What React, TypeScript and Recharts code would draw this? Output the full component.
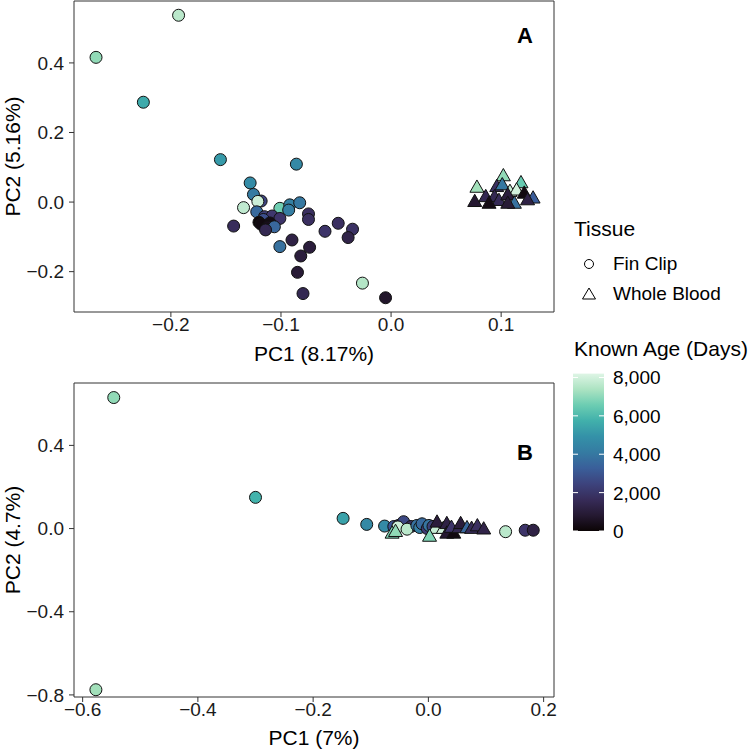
import { ScatterChart, Scatter, XAxis, YAxis, ReferenceArea } from "recharts";

// Panel A - fin clip samples
const finA_pc1 = [-0.193, -0.268, -0.225, -0.155, -0.086, -0.128, -0.125, -0.118, -0.121, -0.134, -0.101, -0.092, -0.083, -0.093, -0.122, -0.115, -0.108, -0.101, -0.075, -0.075, -0.143, -0.116, -0.12, -0.11, -0.118, -0.112, -0.106, -0.114, -0.048, -0.035, -0.06, -0.039, -0.09, -0.101, -0.074, -0.082, -0.085, -0.08, -0.026, -0.005];
const finA_pc2 = [0.537, 0.416, 0.287, 0.122, 0.109, 0.055, 0.022, 0.003, 0.002, -0.016, -0.018, -0.008, -0.002, -0.023, -0.028, -0.042, -0.04, -0.047, -0.034, -0.05, -0.069, -0.05, -0.058, -0.06, -0.064, -0.071, -0.071, -0.08, -0.061, -0.078, -0.084, -0.102, -0.109, -0.128, -0.13, -0.155, -0.202, -0.263, -0.233, -0.275];
const finA_age = [7600, 7000, 5600, 5200, 4600, 4700, 4100, 2500, 7900, 7700, 6600, 4300, 4000, 4200, 3600, 2300, 2100, 2000, 1800, 1800, 1700, 2800, 100, 300, 200, 400, 3500, 1500, 1800, 1900, 2000, 1300, 1200, 3800, 1000, 1000, 900, 1500, 7500, 700];

// Panel A - whole blood samples
const bloodA_pc1 = [0.102, 0.078, 0.118, 0.096, 0.101, 0.108, 0.114, 0.076, 0.086, 0.094, 0.098, 0.089, 0.106, 0.112, 0.121, 0.129, 0.106, 0.124];
const bloodA_pc2 = [0.075, 0.042, 0.055, 0.044, 0.049, 0.03, 0.034, 0.001, 0.015, 0.015, 0.004, -0.004, 0.02, -0.004, 0.025, 0.011, -0.004, 0.006];
const bloodA_age = [7000, 7200, 6500, 1800, 4000, 7800, 8000, 800, 1500, 1500, 1600, 300, 1000, 3800, 200, 3200, 900, 1200];

// Panel B - fin clip samples
const finB_pc1 = [-0.546, -0.577, -0.3, -0.148, -0.107, -0.076, -0.06, -0.052, -0.045, -0.043, -0.03, -0.053, -0.037, -0.02, -0.015, -0.011, -0.002, 0.001, 0.008, 0.134, 0.168, 0.182];
const finB_pc2 = [0.63, -0.775, 0.15, 0.049, 0.02, 0.012, 0.01, 0.015, 0.02, 0.033, 0.01, 0.008, -0.003, 0.015, 0.005, 0.023, 0.0, 0.015, 0.01, -0.015, -0.008, -0.008];
const finB_age = [7000, 7200, 5800, 5400, 4600, 4700, 3000, 2000, 1500, 2600, 1800, 7900, 7600, 3800, 4200, 3600, 2200, 3900, 2400, 7600, 2000, 1200];

// Panel B - whole blood samples
const bloodB_pc1 = [-0.063, -0.057, 0.012, 0.026, 0.002, 0.015, 0.032, 0.032, 0.044, 0.04, 0.053, 0.056, 0.067, 0.075, 0.085, 0.096];
const bloodB_pc2 = [-0.023, -0.015, 0.0, 0.0, -0.038, 0.03, 0.023, -0.023, -0.023, 0.005, 0.003, 0.023, 0.003, 0.0, 0.012, -0.003];
const bloodB_age = [6800, 7000, 7800, 8000, 6800, 1000, 1200, 800, 200, 2000, 1500, 1000, 3500, 1600, 1800, 1300];

const ageMax = 8200;
const ageTicks = [0, 2000, 4000, 6000, 8000];

const makoStops = ["#0B0405", "#2C1E3D", "#3E356B", "#3B5898", "#357BA2", "#3497A9", "#49C1AD", "#A0DFB9", "#DEF5E5"];

function hexToRgb(h: string) {
  return [1, 3, 5].map((i) => parseInt(h.slice(i, i + 2), 16));
}

function mako(t: number) {
  const v = Math.max(0, Math.min(1, t));
  const n = makoStops.length - 1;
  const i = Math.min(n - 1, Math.floor(v * n));
  const f = v * n - i;
  const a = hexToRgb(makoStops[i]);
  const b = hexToRgb(makoStops[i + 1]);
  const c = a.map((x, k) => Math.round(x + (b[k] - x) * f));
  return `rgb(${c[0]},${c[1]},${c[2]})`;
}

function build(pc1: number[], pc2: number[], age: number[], tissue: string) {
  return pc1.map((x, i) => ({ pc1: x, pc2: pc2[i], age: age[i], tissue }));
}

const Mark = (props: any) => {
  const { cx, cy, payload } = props;
  if (cx == null || cy == null) return null;
  const fill = mako(payload.age / ageMax);
  if (payload.tissue === "blood") {
    const pts = `${cx},${cy - 7.5} ${cx + 7},${cy + 4.8} ${cx - 7},${cy + 4.8}`;
    return <polygon points={pts} fill={fill} stroke="#111" strokeWidth={1} />;
  }
  return <circle cx={cx} cy={cy} r={6} fill={fill} stroke="#111" strokeWidth={1} />;
};

const fmt = (v: number) => v.toFixed(1).replace("-", "\u2212");

type PanelProps = {
  top: number;
  height: number;
  marginTop: number;
  xHeight: number;
  titleOffset: number;
  xDomain: [number, number];
  yDomain: [number, number];
  xTicks: number[];
  yTicks: number[];
  xTitle: string;
  yTitle: string;
  fin: any[];
  blood: any[];
};

function Panel(p: PanelProps) {
  return (
    <div style={{ position: "absolute", left: 0, top: p.top, width: 560, height: p.height }}>
      <ScatterChart width={560} height={p.height} margin={{ top: p.marginTop, right: 6, bottom: 0, left: 0 }}>
        <XAxis
          type="number"
          dataKey="pc1"
          domain={p.xDomain}
          ticks={p.xTicks}
          allowDataOverflow
          tickFormatter={fmt}
          height={p.xHeight}
          axisLine={false}
          tickSize={5}
          tickMargin={1}
          tickLine={{ stroke: "#333" }}
          tick={{ fill: "#1a1a1a", fontSize: 19 }}
          label={{ value: p.xTitle, position: "insideBottom", offset: p.titleOffset, fill: "#000", fontSize: 21 }}
        />
        <YAxis
          type="number"
          dataKey="pc2"
          domain={p.yDomain}
          ticks={p.yTicks}
          allowDataOverflow
          tickFormatter={fmt}
          width={74}
          axisLine={false}
          tickSize={5}
          tickMargin={5}
          tickLine={{ stroke: "#333" }}
          tick={{ fill: "#1a1a1a", fontSize: 19 }}
          label={{ value: p.yTitle, angle: -90, position: "insideLeft", offset: 13, fill: "#000", fontSize: 21, style: { textAnchor: "middle" } }}
        />
        <Scatter data={p.fin} shape={Mark} isAnimationActive={false} />
        <Scatter data={p.blood} shape={Mark} isAnimationActive={false} />
        <ReferenceArea
          x1={p.xDomain[0]}
          x2={p.xDomain[1]}
          y1={p.yDomain[0]}
          y2={p.yDomain[1]}
          fill="none"
          stroke="#333"
          strokeWidth={1}
          ifOverflow="visible"
        />
      </ScatterChart>
    </div>
  );
}

export default function App() {
  const barTop = 373.6;
  const barBottom = 531;
  const barH = barBottom - barTop;
  const gradStops = Array.from({ length: 11 }, (_, i) => i / 10);
  return (
    <div
      style={{
        position: "absolute",
        left: 0,
        top: 0,
        width: 750,
        height: 750,
        background: "#fff",
        fontFamily: "'Liberation Sans', Arial, Helvetica, sans-serif",
      }}
    >
      <Panel
        top={0}
        height={370}
        marginTop={1}
        xHeight={58}
        titleOffset={9}
        xDomain={[-0.288, 0.148]}
        yDomain={[-0.316, 0.578]}
        xTicks={[-0.2, -0.1, 0, 0.1]}
        yTicks={[-0.2, 0, 0.2, 0.4]}
        xTitle="PC1 (8.17%)"
        yTitle="PC2 (5.16%)"
        fin={build(finA_pc1, finA_pc2, finA_age, "fin")}
        blood={build(bloodA_pc1, bloodA_pc2, bloodA_age, "blood")}
      />
      <Panel
        top={370}
        height={380}
        marginTop={13}
        xHeight={53}
        titleOffset={5}
        xDomain={[-0.615, 0.218]}
        yDomain={[-0.81, 0.7]}
        xTicks={[-0.6, -0.4, -0.2, 0, 0.2]}
        yTicks={[-0.8, -0.4, 0, 0.4]}
        xTitle="PC1 (7%)"
        yTitle="PC2 (4.7%)"
        fin={build(finB_pc1, finB_pc2, finB_age, "fin")}
        blood={build(bloodB_pc1, bloodB_pc2, bloodB_age, "blood")}
      />
      <svg width={750} height={750} style={{ position: "absolute", left: 0, top: 0, pointerEvents: "none" }}>
        <defs>
          <linearGradient id="ageGrad" x1="0" y1="1" x2="0" y2="0">
            {gradStops.map((s) => (
              <stop key={s} offset={s} stopColor={mako(s)} />
            ))}
          </linearGradient>
        </defs>
        <text x={525} y={43} textAnchor="middle" fontSize={22} fontWeight="bold" fill="#000">A</text>
        <text x={525} y={460} textAnchor="middle" fontSize={22} fontWeight="bold" fill="#000">B</text>

        <text x={574} y={236} fontSize={21} fill="#000">Tissue</text>
        <circle cx={589} cy={264} r={4.5} fill="#fff" stroke="#000" strokeWidth={1} />
        <text x={613} y={270} fontSize={19} fill="#000">Fin Clip</text>
        <polygon points="589,288 595.5,299 582.5,299" fill="#fff" stroke="#000" strokeWidth={1} />
        <text x={613} y={300} fontSize={19} fill="#000">Whole Blood</text>

        <text x={574} y={356} fontSize={21} fill="#000">Known Age (Days)</text>
        <rect x={573} y={barTop} width={31} height={barH} fill="url(#ageGrad)" />
        {ageTicks.map((a) => {
          const y = barBottom - (a / ageMax) * barH;
          return (
            <g key={a}>
              <line x1={573} x2={578} y1={y} y2={y} stroke="#fff" strokeWidth={1} />
              <line x1={599} x2={604} y1={y} y2={y} stroke="#fff" strokeWidth={1} />
              <text x={613} y={y + 7} fontSize={19} fill="#000">{a.toLocaleString("en-US")}</text>
            </g>
          );
        })}
      </svg>
    </div>
  );
}
